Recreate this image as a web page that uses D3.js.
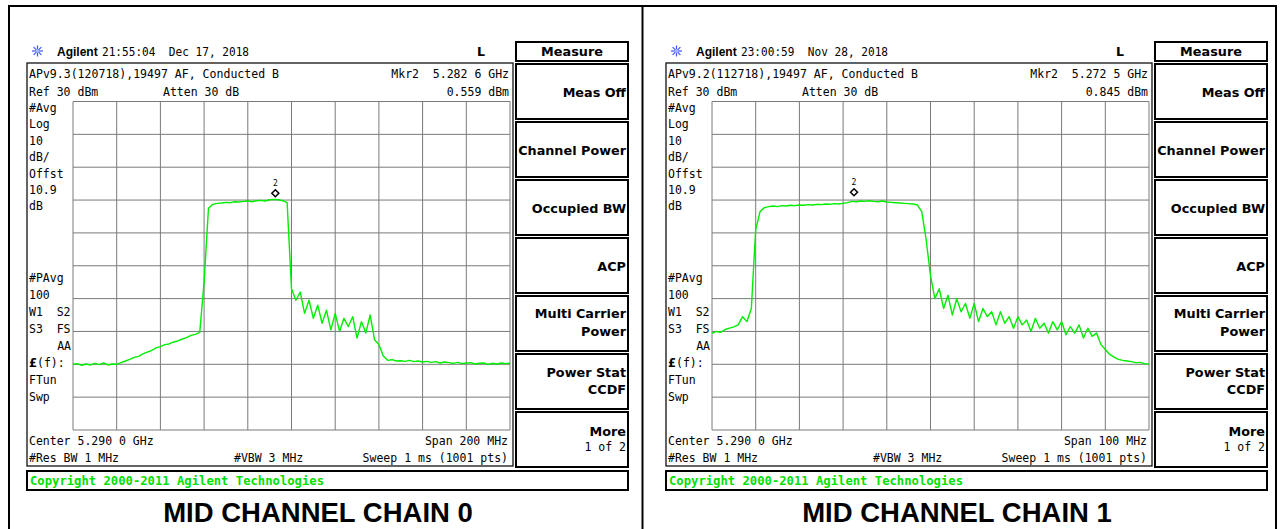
<!DOCTYPE html>
<html><head><meta charset="utf-8">
<script src="https://cdn.jsdelivr.net/npm/d3@7"></script>
<style>body{margin:0;background:#fff}svg{display:block}text{white-space:pre}</style>
</head><body><svg id="c" width="1283" height="529"></svg>
<script>
// ---------- data ----------
const centerMHz = 5290;
const spansMHz = [200, 100];
const chain0Levels = [
 -50.0,-49.8,-50.3,-49.9,-50.2,-49.7,-50.1,-49.6,-50.2,-49.9,
 -50.0,-49.5,-49.0,-48.5,-47.9,-47.6,-46.8,-46.3,-45.8,-45.0,
 -44.6,-44.0,-43.8,-43.2,-42.9,-42.3,-41.9,-41.2,-40.9,-40.3,
 -25.0,-2.5,-1.3,-1.0,-0.9,-0.7,-0.8,-0.5,-0.6,-0.4,
 -0.3,-0.5,-0.2,-0.1,-0.3,0.1,0.2,0.1,-0.2,-0.8,
 -27.0,-30.5,-28.0,-34.5,-30.5,-36.0,-32.0,-37.5,-33.5,-39.5,
 -34.5,-40.0,-36.0,-38.5,-35.5,-42.0,-37.0,-40.5,-35.0,-42.5,
 -44.0,-47.5,-48.8,-48.6,-49.0,-48.9,-49.1,-48.8,-49.2,-49.0,
 -49.3,-49.1,-49.4,-49.2,-49.6,-49.3,-49.5,-49.7,-49.4,-49.8,
 -49.6,-49.5,-49.9,-49.7,-49.6,-50.0,-49.7,-49.9,-49.6,-49.8,
 -49.7];
const chain1Levels = [
 -40.6,-40.0,-40.3,-39.4,-39.0,-38.6,-38.0,-35.5,-37.0,-33.0,
 -9.0,-3.5,-2.3,-2.0,-1.8,-2.0,-1.7,-1.8,-1.6,-1.7,
 -1.5,-1.6,-1.4,-1.5,-1.3,-1.4,-1.2,-1.3,-1.1,-1.2,
 -1.0,-0.8,-0.4,-0.5,-0.3,-0.4,-0.2,-0.4,-0.5,-0.3,
 -0.6,-0.7,-0.8,-0.9,-1.0,-1.1,-1.2,-1.5,-3.5,-12.0,
 -23.0,-30.0,-27.0,-33.0,-29.0,-35.0,-30.0,-34.0,-31.5,-36.0,
 -31.5,-37.0,-33.0,-35.5,-34.0,-38.0,-34.0,-37.5,-35.5,-39.0,
 -35.5,-38.0,-36.5,-40.0,-36.0,-39.0,-37.5,-40.5,-37.0,-39.5,
 -37.0,-41.0,-38.5,-40.5,-38.0,-42.0,-39.0,-41.5,-40.5,-44.0,
 -45.5,-47.0,-47.8,-48.5,-48.8,-49.0,-49.2,-49.5,-49.4,-49.8,
 -49.9];
const levelTicks = [30,20,10,0,-10,-20,-30,-40,-50,-60,-70];
const markerFreqMHz = [5282.6, 5272.5];
const markerLevels = [0.559, 0.845];
const markerFreqLabels = ["Mkr2  5.282 6 GHz", "Mkr2  5.272 5 GHz"];
const markerLevelLabels = ["0.559 dBm", "0.845 dBm"];
const timestamps = ["21:55:04  Dec 17, 2018", "23:00:59  Nov 28, 2018"];
const versions = ["APv9.3(120718),19497 AF, Conducted B", "APv9.2(112718),19497 AF, Conducted B"];
const spanLabels = ["Span 200 MHz", "Span 100 MHz"];
const panelTitles = ["MID CHANNEL CHAIN 0", "MID CHANNEL CHAIN 1"];
const upperNotes = ["#Avg","Log","10","dB/","Offst","10.9","dB"];
const lowerNotes = ["#PAvg","100","W1  S2","S3  FS","AA","£(f):","FTun","Swp"];
const softkeys = [["Meas Off"],["Channel Power"],["Occupied BW"],["ACP"],["Multi Carrier","Power"],["Power Stat","CCDF"],["More","1 of 2"]];
const traces = [chain0Levels, chain1Levels];

// ---------- drawing ----------
const svg = d3.select("#c");
const MONO = "'DejaVu Sans Mono','Liberation Mono',monospace";
const BOLD = "'DejaVu Sans',sans-serif";
const fs = 11.5;

svg.append("line").attr("x1",9).attr("x2",9).attr("y1",5).attr("y2",529).attr("stroke","#000").attr("stroke-width",2);
svg.append("line").attr("x1",1276).attr("x2",1276).attr("y1",5).attr("y2",529).attr("stroke","#000").attr("stroke-width",2);
svg.append("line").attr("x1",8).attr("x2",1277).attr("y1",6).attr("y2",6).attr("stroke","#000").attr("stroke-width",2);
svg.append("line").attr("x1",642.5).attr("x2",642.5).attr("y1",5).attr("y2",529).attr("stroke","#000").attr("stroke-width",2);

function txt(g, x, y, s, opts={}) {
  const t = g.append("text").attr("x",x).attr("y",y).text(s)
    .attr("font-family", opts.family || MONO)
    .attr("font-size", opts.size || fs)
    .attr("fill", opts.fill || "#000");
  if (opts.weight) t.attr("font-weight", opts.weight);
  if (opts.anchor) t.attr("text-anchor", opts.anchor);
  if (opts.len) t.attr("textLength", opts.len).attr("lengthAdjust","spacingAndGlyphs");
  return t;
}

[0,1].forEach(p => {
  const g = svg.append("g").attr("transform", `translate(${p*639},0)`);
  const span = spansMHz[p];
  const x = d3.scaleLinear().domain([centerMHz - span/2, centerMHz + span/2]).range([73, 510]);
  const y = d3.scaleLinear().domain([30, -70]).range([101.5, 430]);

  const icon = g.append("g").attr("transform","translate(37.5,51)");
  d3.range(8).forEach(k => {
    const a = k*Math.PI/4;
    icon.append("line").attr("x1",Math.cos(a)*1.5).attr("y1",Math.sin(a)*1.5)
      .attr("x2",Math.cos(a)*5.5).attr("y2",Math.sin(a)*5.5)
      .attr("stroke","#3a55ff").attr("stroke-width",1.2);
  });
  icon.append("circle").attr("r",1.6).attr("fill","#9fb0ff");
  txt(g, 57, 56, "Agilent", {family:"'Liberation Sans',Arial,sans-serif", weight:"bold", size:12});
  txt(g, 102, 56, timestamps[p], {len:147});
  txt(g, 477, 56, "L", {family:BOLD, size:12.5, weight:"bold"});

  g.append("rect").attr("x",27).attr("y",63).attr("width",486).attr("height",403)
    .attr("fill","none").attr("stroke","#111").attr("stroke-width",1.3);
  txt(g, 29, 78, versions[p], {len:250});
  txt(g, 29, 96, "Ref 30 dBm");
  txt(g, 163, 96, "Atten 30 dB");
  txt(g, 509, 78, markerFreqLabels[p], {anchor:"end"});
  txt(g, 509, 96, markerLevelLabels[p], {anchor:"end"});

  upperNotes.forEach((s,i) => txt(g, 29, 112 + i*16.4, s));
  lowerNotes.forEach((s,i) => {
    const yy = 282 + i*17;
    if (s === "AA") txt(g, 71, yy, s, {anchor:"end"});
    else if (s.startsWith("£")) {
      const t = txt(g, 29, yy, "");
      t.append("tspan").attr("font-weight","bold").attr("font-family",BOLD).text("£");
      t.append("tspan").text("(f):");
    } else txt(g, 29, yy, s);
  });

  const grid = g.append("g");
  d3.range(11).forEach(k => {
    const f = centerMHz - span/2 + k*span/10;
    grid.append("line").attr("x1",x(f)).attr("x2",x(f)).attr("y1",y(30)).attr("y2",y(-70))
      .attr("stroke","#7a7a7a").attr("stroke-width",1);
  });
  levelTicks.forEach(v => {
    grid.append("line").attr("x1",73).attr("x2",510).attr("y1",y(v)).attr("y2",y(v))
      .attr("stroke","#7a7a7a").attr("stroke-width",1);
  });

  const line = d3.line()
    .x((d,i) => x(centerMHz - span/2 + i*span/100))
    .y(d => y(d));
  g.append("path").datum(traces[p]).attr("d", line)
    .attr("fill","none").attr("stroke","#00ee00").attr("stroke-width",1.4)
    .attr("stroke-linejoin","round");

  const mx = x(markerFreqMHz[p]), my = y(markerLevels[p]) - 5;
  g.append("path").attr("d", `M${mx},${my-3.5}L${mx+3.5},${my}L${mx},${my+3.5}L${mx-3.5},${my}Z`)
    .attr("fill","#fff").attr("stroke","#000").attr("stroke-width",1.5);
  txt(g, mx, my - 7, "2", {anchor:"middle", size:8});

  txt(g, 29, 445, "Center 5.290 0 GHz");
  txt(g, 508, 445, spanLabels[p], {anchor:"end"});
  txt(g, 29, 462, "#Res BW 1 MHz");
  txt(g, 234, 462, "#VBW 3 MHz");
  txt(g, 508, 462, "Sweep 1 ms (1001 pts)", {anchor:"end"});

  g.append("rect").attr("x",516).attr("y",42).attr("width",112).attr("height",19)
    .attr("fill","none").attr("stroke","#000").attr("stroke-width",2);
  txt(g, 572, 56, "Measure", {family:BOLD, weight:"bold", size:12.8, anchor:"middle"});
  const centers = [[92],[150],[208],[266],[313,331],[372,389],[431,447]];
  softkeys.forEach((lab,k) => {
    g.append("rect").attr("x",516).attr("y",64 + k*58).attr("width",112).attr("height",55)
      .attr("fill","none").attr("stroke","#000").attr("stroke-width",2);
    lab.forEach((s,j) => {
      if (s === "1 of 2") txt(g, 626, centers[k][j] + 4, s, {anchor:"end"});
      else txt(g, 626, centers[k][j] + 4.6, s, {family:BOLD, weight:"bold", size:12.8, anchor:"end"});
    });
  });

  g.append("rect").attr("x",27).attr("y",471).attr("width",601).attr("height",19)
    .attr("fill","none").attr("stroke","#000").attr("stroke-width",2);
  txt(g, 30, 485, "Copyright 2000-2011 Agilent Technologies", {weight:"bold", fill:"#00e000", len:294});

  txt(g, 318, 522, panelTitles[p], {family:"'Liberation Sans',Arial,sans-serif", weight:"bold", size:27.5, anchor:"middle"});
});
</script></body></html>
